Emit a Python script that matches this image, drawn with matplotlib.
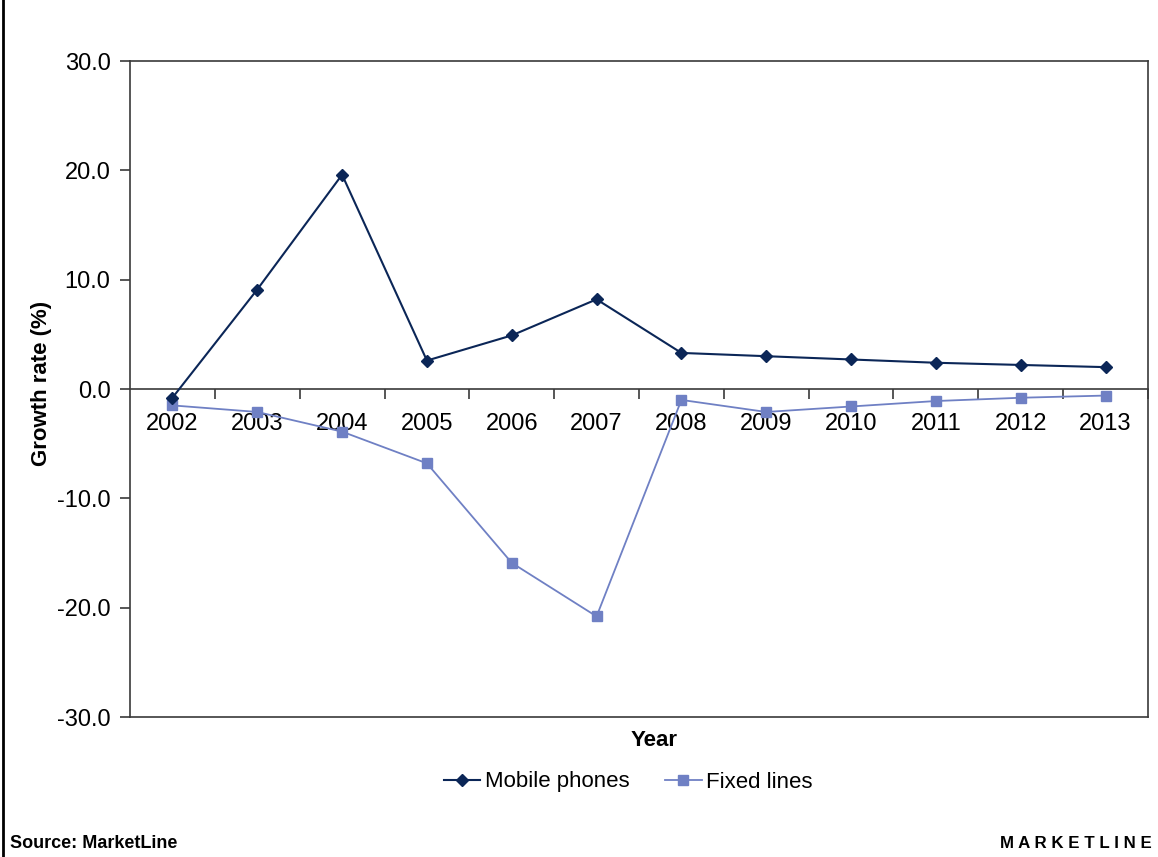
import matplotlib
matplotlib.use('Agg')
import matplotlib.pyplot as plt
from matplotlib.lines import Line2D

plt.rcParams['font.family'] = ['Liberation Sans', 'DejaVu Sans']
plt.rcParams['axes.unicode_minus'] = False

# Темпы роста абонентской базы, %
years = ['2002', '2003', '2004', '2005', '2006', '2007',
         '2008', '2009', '2010', '2011', '2012', '2013']
mobile_growth = [-0.8, 9.1, 19.6, 2.6, 4.9, 8.2, 3.3, 3.0, 2.7, 2.4, 2.2, 2.0]
fixed_growth = [-1.5, -2.1, -3.9, -6.8, -15.9, -20.8, -1.0, -2.1, -1.6, -1.1, -0.8, -0.6]
y_ticks = [-30, -20, -10, 0, 10, 20, 30]

mobile_color = '#0b2657'
fixed_color = '#6f80c4'
frame_color = '#3a3a3a'

fig = plt.figure(figsize=(11.58, 8.57), dpi=100)
ax = fig.add_axes([130 / 1158, 1 - 717 / 857, 1018 / 1158, 656 / 857])

x = list(range(len(years)))
ax.plot(x, mobile_growth, color=mobile_color, lw=1.5, marker='D', ms=6,
        label='Mobile phones', zorder=4)
ax.plot(x, fixed_growth, color=fixed_color, lw=1.3, marker='s', ms=7.5,
        label='Fixed lines', zorder=3)

ax.set_xlim(-0.5, len(years) - 0.5)
ax.set_ylim(-30, 30)
ax.set_yticks(y_ticks)
ax.set_yticklabels([f'{v:.1f}' for v in y_ticks])
ax.tick_params(axis='y', length=7, width=1.2, color=frame_color, pad=7, labelsize=17)

for s in ax.spines.values():
    s.set_color(frame_color)
    s.set_linewidth(1.2)

# ось категорий проходит по нулю, рамка снизу рисуется отдельно
ax.spines['bottom'].set_position(('data', 0))
ax.set_xticks(x, labels=years)
ax.set_xticks([i + 0.5 for i in x], minor=True)
ax.tick_params(axis='x', which='major', length=0, labelsize=17, pad=17)
ax.tick_params(axis='x', which='minor', length=7, width=1.2, color=frame_color,
               direction='out')
ax.axhline(-30, color=frame_color, lw=1.2, clip_on=False, zorder=5)

fig.text(42 / 1158, 1 - 383 / 857, 'Growth rate (%)', rotation=90, fontsize=16,
         fontweight='bold', ha='center', va='center')
fig.text(654 / 1158, 1 - 740 / 857, 'Year', fontsize=16, fontweight='bold',
         ha='center', va='center')

handles = [
    Line2D([], [], color=mobile_color, lw=1.5, marker='D', ms=6),
    Line2D([], [], color=fixed_color, lw=1.3, marker='s', ms=7.5),
]
fig.legend(handles, ['Mobile phones', 'Fixed lines'], loc='center',
           bbox_to_anchor=(628 / 1158, 1 - 782 / 857), ncol=2, frameon=False,
           fontsize=16, handlelength=1.65, handletextpad=0.2, columnspacing=1.6)

fig.text(10 / 1158, 1 - 843 / 857, 'Source: MarketLine', fontsize=13,
         fontweight='heavy', ha='left', va='center')
fig.text(1000 / 1158, 1 - 843 / 857, 'M A R K E T L I N E', fontsize=12.2,
         fontweight='heavy', ha='left', va='center')

fig.add_artist(Line2D([2.5 / 1158, 2.5 / 1158], [0, 1], color='black', lw=2,
                      transform=fig.transFigure))

fig.savefig('out.png', dpi=100, facecolor='white')
